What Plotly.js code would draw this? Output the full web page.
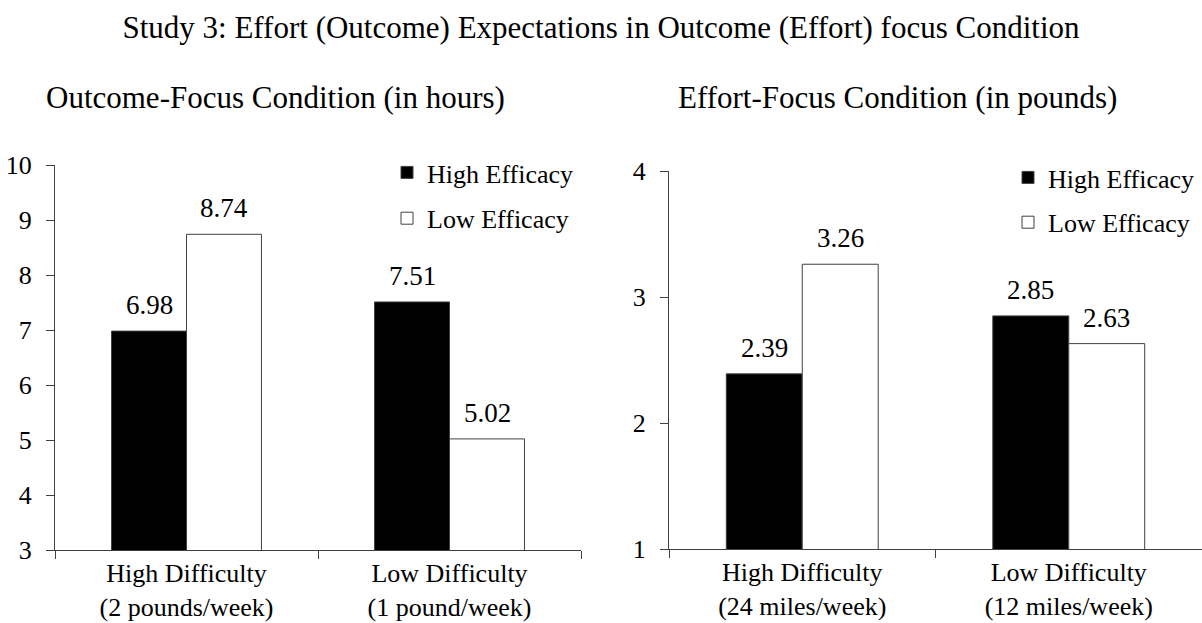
<!DOCTYPE html>
<html>
<head>
<meta charset="utf-8">
<script src="https://cdn.plot.ly/plotly-3.0.1.min.js"></script>
<style>html,body{margin:0;padding:0;background:#fff;}#chart{width:1202px;height:623px;}</style>
</head>
<body>
<div id="chart"></div>
<script>
// ---- data ----
const leftCategories = ["High Difficulty<br>(2 pounds/week)", "Low Difficulty<br>(1 pound/week)"];
const leftHigh = [6.98, 7.51];
const leftLow = [8.74, 5.02];
const rightCategories = ["High Difficulty<br>(24 miles/week)", "Low Difficulty<br>(12 miles/week)"];
const rightHigh = [2.39, 2.85];
const rightLow = [3.26, 2.63];
const seriesNames = ["High Efficacy", "Low Efficacy"];
const leftTicks = [3, 4, 5, 6, 7, 8, 9, 10];
const rightTicks = [1, 2, 3, 4];
const mainTitle = "Study 3: Effort (Outcome) Expectations in Outcome (Effort) focus Condition";
const leftSubtitle = "Outcome-Focus Condition (in hours)";
const rightSubtitle = "Effort-Focus Condition (in pounds)";

const FONT = "Liberation Serif, Times New Roman, serif";
const lineCol = "#404040";

function barTrace(x, y, name, fill, xa, ya, leg) {
  return {
    type: "bar", x: x, y: y, name: name, xaxis: xa, yaxis: ya,
    marker: {color: fill, line: {color: lineCol, width: 1}},
    legend: leg, legendgroup: leg + name, showlegend: true,
    hoverinfo: "x+y"
  };
}

const data = [
  barTrace(leftCategories, leftHigh, seriesNames[0], "#000000", "x", "y", "legend"),
  barTrace(leftCategories, leftLow, seriesNames[1], "#ffffff", "x", "y", "legend"),
  barTrace(rightCategories, rightHigh, seriesNames[0], "#000000", "x2", "y2", "legend2"),
  barTrace(rightCategories, rightLow, seriesNames[1], "#ffffff", "x2", "y2", "legend2")
];

// value labels as annotations anchored to the bars
const annotations = [];
function addLabels(cats, vals, xa, ya, shift) {
  cats.forEach((c, i) => annotations.push({
    xref: xa, yref: ya, x: c, y: vals[i], text: vals[i].toFixed(2),
    showarrow: false, xanchor: "center", yanchor: "bottom",
    xshift: shift, yshift: 9,
    font: {family: FONT, size: 27, color: "#000"}
  }));
}
addLabels(leftCategories, leftHigh, "x", "y", -37.5);
addLabels(leftCategories, leftLow, "x", "y", 37.5);
addLabels(rightCategories, rightHigh, "x2", "y2", -38);
addLabels(rightCategories, rightLow, "x2", "y2", 38);

annotations.push({
  xref: "paper", yref: "paper", x: 44 / 1202, y: 1 - 98 / 623, xanchor: "left", yanchor: "middle",
  text: leftSubtitle, showarrow: false, font: {family: FONT, size: 31, color: "#000"}
});
annotations.push({
  xref: "paper", yref: "paper", x: 676 / 1202, y: 1 - 98 / 623, xanchor: "left", yanchor: "middle",
  text: rightSubtitle, showarrow: false, font: {family: FONT, size: 31, color: "#000"}
});

const xCommon = {
  type: "category", showline: true, linecolor: lineCol, linewidth: 1,
  ticks: "outside", tickson: "boundaries", ticklen: 8, tickcolor: lineCol,
  showgrid: false, zeroline: false, range: [-0.5, 1.5],
  tickfont: {family: FONT, size: 26, color: "#000"}, ticklabelstandoff: 0, fixedrange: true
};
const yCommon = {
  showline: true, linecolor: lineCol, linewidth: 1,
  ticks: "outside", ticklen: 8, tickcolor: lineCol, showgrid: false, zeroline: false,
  tickfont: {family: FONT, size: 26, color: "#000"}, ticklabelstandoff: 9, fixedrange: true
};

const legendCommon = {
  font: {family: FONT, size: 26, color: "#000"}, bgcolor: "rgba(0,0,0,0)",
  xanchor: "left", yanchor: "top", traceorder: "grouped",
  itemwidth: 30
};

const layout = {
  width: 1202, height: 623,
  margin: {l: 0, r: 0, t: 0, b: 0},
  paper_bgcolor: "#fff", plot_bgcolor: "#fff",
  font: {family: FONT, color: "#000"},
  title: {text: mainTitle, x: 0.5, xanchor: "center", y: 1 - 27 / 623, yanchor: "middle",
          font: {family: FONT, size: 31, color: "#000"}},
  barmode: "group", bargap: 0.43, bargroupgap: 0,
  xaxis: Object.assign({}, xCommon, {domain: [55 / 1202, 581 / 1202], anchor: "y"}),
  yaxis: Object.assign({}, yCommon, {domain: [1 - 550 / 623, 1 - 165 / 623], range: [3, 10],
          tickvals: leftTicks, anchor: "x"}),
  xaxis2: Object.assign({}, xCommon, {domain: [669 / 1202, 1], anchor: "y2"}),
  yaxis2: Object.assign({}, yCommon, {domain: [1 - 549 / 623, 1 - 171 / 623], range: [1, 4],
          tickvals: rightTicks, anchor: "x2"}),
  legend: Object.assign({}, legendCommon, {x: 387 / 1202, y: 1 - 149 / 623, tracegroupgap: 9}),
  legend2: Object.assign({}, legendCommon, {x: 1008 / 1202, y: 1 - 154 / 623, tracegroupgap: 8}),
  annotations: annotations,
  showlegend: true
};

Plotly.newPlot("chart", data, layout, {displayModeBar: false, staticPlot: true});
</script>
</body>
</html>
